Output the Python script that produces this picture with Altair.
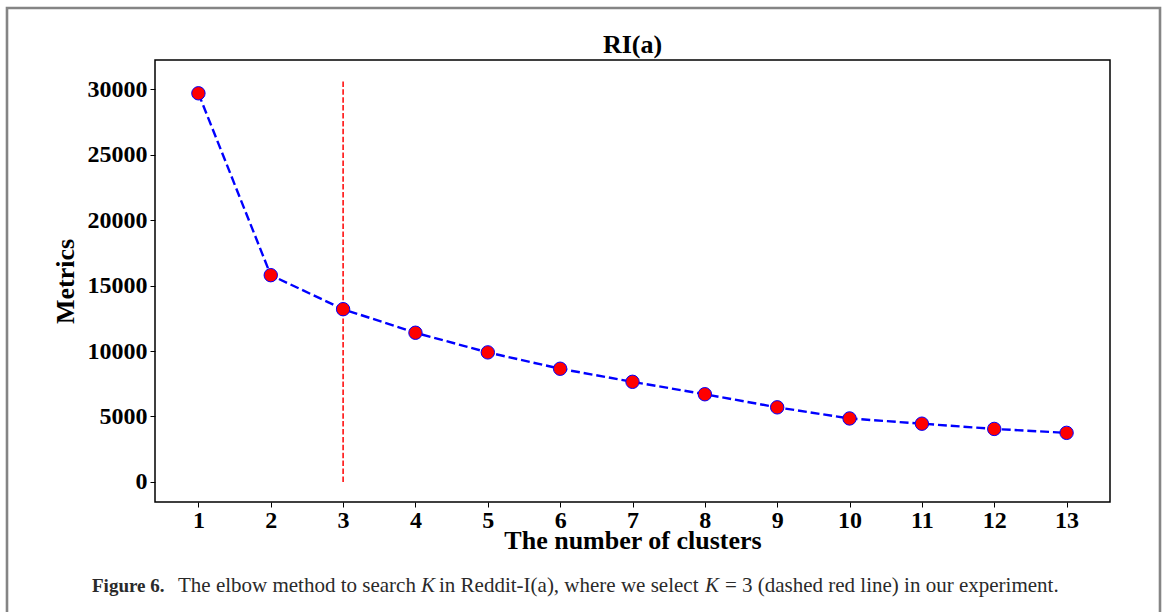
import altair as alt
import pandas as pd

# ---- data ----
clusters = list(range(1, 14))
metrics = [29700, 15800, 13200, 11400, 9900, 8650, 7650, 6700, 5700, 4850, 4450, 4050, 3750]
x_ticks = list(range(1, 14))
y_ticks = [0, 5000, 10000, 15000, 20000, 25000, 30000]
selected_k = [3]
vline_bottom = [0]
vline_top = [30700]

title_text = "RI(a)"
x_title = "The number of clusters"
y_title = "Metrics"
caption_bold = ["Figure 6."]
caption_regular = ["The elbow method to search", "in Reddit-I(a), where we select",
                   "=", "3 (dashed red line) in our experiment."]
caption_italic = ["K", "K"]

FONT = "Liberation Serif"
W, H = 955, 442

df = pd.DataFrame({"k": clusters, "metric": metrics})
vdf = pd.DataFrame({"k": selected_k, "y0": vline_bottom, "y1": vline_top})

xs = alt.Scale(domain=[0.4, 13.6], nice=False, zero=False)
ys = alt.Scale(domain=[-1535, 32245], nice=False, zero=False)

x_axis = alt.Axis(values=x_ticks, title=x_title, format="d",
                  labelFont=FONT, labelFontSize=24, labelFontWeight="bold", labelColor="black",
                  labelPadding=1, tickColor="black", tickSize=5, tickWidth=1,
                  domain=False, grid=False,
                  titleFont=FONT, titleFontSize=26, titleFontWeight="bold", titleColor="black",
                  titleBaseline="alphabetic", titleX=W / 2, titleY=46)
y_axis = alt.Axis(values=y_ticks, title=y_title, format="d",
                  labelFont=FONT, labelFontSize=24, labelFontWeight="bold", labelColor="black",
                  labelPadding=3, tickColor="black", tickSize=5, tickWidth=1,
                  domain=False, grid=False,
                  titleFont=FONT, titleFontSize=26, titleFontWeight="bold", titleColor="black",
                  titleAngle=270, titleBaseline="alphabetic", titleX=-82, titleY=H / 2,
                  titleAlign="center")

base = alt.Chart(df)

line = base.mark_line(color="blue", strokeWidth=2.4, strokeDash=[8.9, 3.9]).encode(
    x=alt.X("k:Q", scale=xs, axis=x_axis),
    y=alt.Y("metric:Q", scale=ys, axis=y_axis),
)

vline = alt.Chart(vdf).mark_rule(color="red", strokeWidth=1.5, strokeDash=[5.5, 2.4]).encode(
    x=alt.X("k:Q", scale=xs),
    y=alt.Y("y0:Q", scale=ys),
    y2="y1:Q",
)

points = base.mark_circle(color="red", opacity=1, stroke="blue", strokeWidth=1, size=180).encode(
    x=alt.X("k:Q", scale=xs),
    y=alt.Y("metric:Q", scale=ys),
)

# ---- decorations: title, outer frame, caption ----
title = alt.Chart(pd.DataFrame({"t": [title_text]})).mark_text(
    font=FONT, fontSize=26, fontWeight="bold", color="black", align="center", baseline="alphabetic"
).encode(text="t:N", x=alt.value(W / 2), y=alt.value(-7))

frame = alt.Chart(pd.DataFrame({"a": [0]})).mark_rect(
    fillOpacity=0, stroke="#858585", strokeWidth=2.6
).encode(x=alt.value(-148), x2=alt.value(1005), y=alt.value(-52), y2=alt.value(620))

CAP_Y = 532
CAP_SIZE = 21
CAP_COLOR = "#2a2a2a"
cap_b = alt.Chart(pd.DataFrame({"t": caption_bold, "px": [-63]})).mark_text(
    font=FONT, fontSize=19, fontWeight="bold", color=CAP_COLOR, align="left", baseline="alphabetic"
).encode(text="t:N", x=alt.X("px:Q", scale=None), y=alt.value(CAP_Y))
cap_r = alt.Chart(pd.DataFrame({"t": caption_regular, "px": [23, 284, 570, 587]})).mark_text(
    font=FONT, fontSize=CAP_SIZE, color=CAP_COLOR, align="left", baseline="alphabetic"
).encode(text="t:N", x=alt.X("px:Q", scale=None), y=alt.value(CAP_Y))
cap_i = alt.Chart(pd.DataFrame({"t": caption_italic, "px": [266, 550]})).mark_text(
    font=FONT, fontSize=CAP_SIZE, fontStyle="italic", color=CAP_COLOR, align="left", baseline="alphabetic"
).encode(text="t:N", x=alt.X("px:Q", scale=None), y=alt.value(CAP_Y))

chart = alt.layer(frame, line, vline, points, title, cap_b, cap_r, cap_i).properties(
    width=W, height=H,
    autosize=alt.AutoSizeParams(type="none"),
    padding={"left": 155, "top": 60, "right": 55, "bottom": 110},
    background="white",
).configure_view(stroke="black", strokeWidth=1.5)

chart.save("out.html", embed_options={"renderer": "svg", "actions": False})
